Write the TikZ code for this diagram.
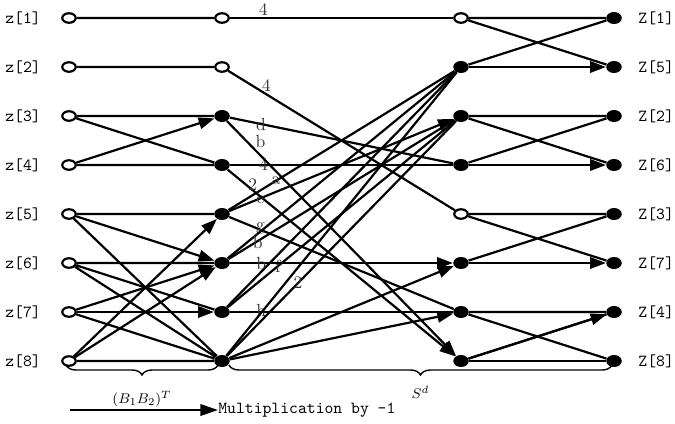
\documentclass[tikz,border=0pt]{standalone}
\usetikzlibrary{arrows.meta,positioning,shapes.geometric,decorations.pathreplacing}

\begin{document}
\begin{tikzpicture}[x=0.02cm,y=-0.02cm,
    wire/.style={line width=1.25pt},
    neg/.style={wire,-{Triangle[length=9pt,width=6.5pt]}},
    opn/.style={ellipse,draw,line width=1.25pt,fill=white,minimum width=0.27cm,minimum height=0.19cm,inner sep=0pt},
    ful/.style={ellipse,fill=black,minimum width=0.31cm,minimum height=0.24cm,inner sep=0pt},
    coef/.style={font=\fontsize{10}{10}\selectfont,text=black!80,inner sep=0pt},
    idx/.style={font=\fontsize{9.6}{10}\ttfamily,inner sep=0pt},
    brc/.style={line width=0.8pt,decorate,decoration={brace,mirror,amplitude=0.2cm}}]
  \useasboundingbox (0,0) rectangle (675,423);
  % four columns of points
  \foreach \a/\b/\c/\o [count=\k] in {opn/opn/opn/1,opn/opn/ful/5,opn/ful/ful/2,opn/ful/ful/6,
                                      opn/ful/opn/3,opn/ful/ful/7,opn/ful/ful/4,opn/ful/ful/8}
  {
    \node[\a] (in\k) at (69,{18+49*(\k-1)}) {};
    \node[\b] (m\k) at (222,{18+49*(\k-1)}) {};
    \node[\c] (n\k) at (461,{18+49*(\k-1)}) {};
    \node[ful] (out\k) at (614,{18+49*(\k-1)}) {};
    \node[idx,left=0.4cm of in\k] (zin\k) {z[\k]};
    \node[idx,right=0.32cm of out\k] (zout\k) {Z[\o]};
  }
  % (B1B2)^T
  \draw[wire] (in1)--(m1) (in2)--(m2) (in3)--(m3) (in3)--(m4) (in4)--(m4)
    (in5)--(m5) (in5)--(m8) (in6)--(m6) (in6)--(m7) (in6)--(m8) (in7)--(m8) (in8)--(m8);
  \foreach \s/\t in {4/3,5/6,7/6,7/7,8/5,8/6}
    \draw[neg] (in\s)--(m\t);
  % S^d, first stage
  \draw[wire] (m1)--node[coef,pos=0.15,above=1pt]{4} (n1);
  \draw[wire] (m2)--node[coef,pos=0.15,above right=-1pt]{4} (n5);
  \draw[wire] (m3)--node[coef,pos=0.14]{d} (n4);
  \draw[wire] (m4)--node[coef,pos=0.15]{4} (n4);
  \draw[wire] (m5)--node[coef,pos=0.21]{a} (n2);
  \draw[wire] (m5)--node[coef,pos=0.14,yshift=1pt]{g} (n7);
  \draw[wire] (m6)--(n2);
  \draw[wire] (m6)--node[coef,pos=0.13,yshift=-1pt]{b} (n3);
  \draw[wire] (m7)--(n2);
  \draw[wire] (m7)--node[coef,pos=0.22]{f} (n3);
  \draw[wire] (m7)--node[coef,pos=0.14,yshift=1pt]{h} (n7);
  \draw[wire] (m8)--(n2);
  \draw[wire] (m8)--node[coef,pos=0.31]{2} (n3);
  \draw[neg] (m3)--node[coef,pos=0.12,above right=0pt]{b} (n8);
  \draw[neg] (m4)--node[coef,pos=0.11,yshift=3pt]{2} (n8);
  \draw[neg] (m5)--node[coef,pos=0.14,yshift=-1pt]{e} (n3);
  \draw[neg] (m6)--node[coef,pos=0.14]{b} (n6);
  \draw[neg] (m8)--(n6);
  \draw[neg] (m8)--(n7);
  % S^d, butterflies
  \foreach \u/\v in {1/2,3/4,5/6,7/8}
    \draw[wire] (n\u)--(out\u) (n\u)--(out\v) (n\v)--(out\u);
  \foreach \s/\t in {2/2,4/4,6/6,8/7}
    \draw[neg] (n\s)--(out\t);
  \draw[wire] (n8)--(out8);
  % braces and legend
  \coordinate (b1l) at (66,365);
  \coordinate (b1r) at (218,365);
  \coordinate (b2l) at (229,365);
  \coordinate (b2r) at (612,365);
  \draw[brc] (b1l)--node[midway,below=0.4cm,font=\footnotesize]{$(B_1B_2)^T$} (b1r);
  \draw[brc] (b2l)--node[midway,below=0.3cm,font=\footnotesize]{$S^d$} (b2r);
  \coordinate (legtail) at (70,410);
  \node[idx,anchor=west] (legtext) at (218,410) {Multiplication by -1};
  \draw[wire,-{Triangle[length=10pt,width=6.5pt]}] (legtail)--(legtext.west);
\end{tikzpicture}
\end{document}
